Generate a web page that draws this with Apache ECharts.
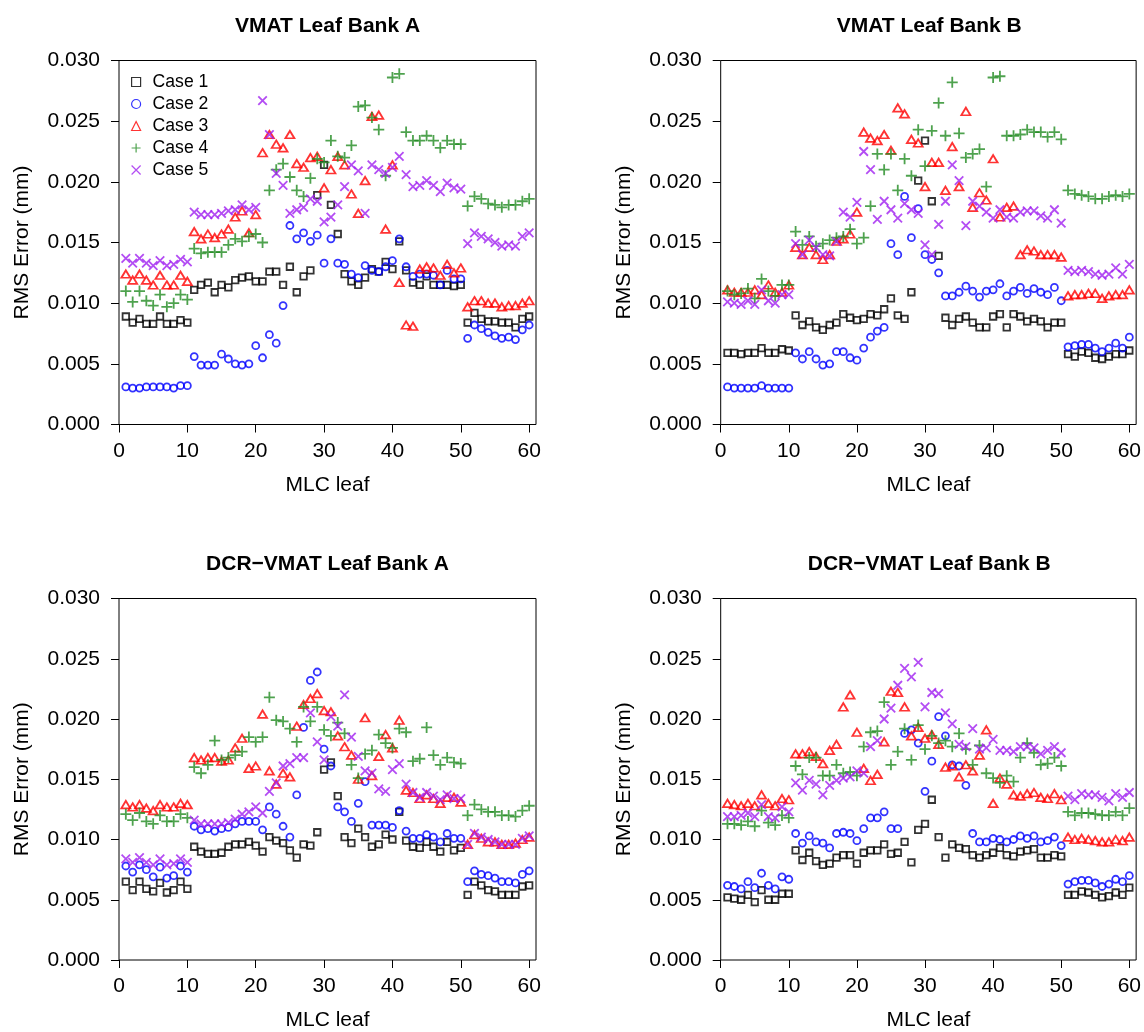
<!DOCTYPE html>
<html>
<head>
<meta charset="utf-8">
<script src="https://cdn.jsdelivr.net/npm/echarts@6.0.0/dist/echarts.min.js"></script>
<style>
  html, body { margin: 0; padding: 0; background: #fff; }
  #chart { width: 1144px; height: 1032px; }
</style>
</head>
<body>
<div id="chart"></div>
<script>
// RMS error per MLC leaf.
// values are in micrometres (0.001 mm); the y axis labels them in mm.
const leaves = Array.from({ length: 60 }, (_, i) => i + 1);
const xTicks = [0, 10, 20, 30, 40, 50, 60];
const yTicks = [0, 5, 10, 15, 20, 25, 30];
const caseNames = ["Case 1", "Case 2", "Case 3", "Case 4", "Case 5"];
const panelTitles = [
  "VMAT Leaf Bank A",
  "VMAT Leaf Bank B",
  "DCR\u2212VMAT Leaf Bank A",
  "DCR\u2212VMAT Leaf Bank B",
];

// VMAT leaf bank A
const vmatA1 = [8.9, 8.4, 8.7, 8.3, 8.3, 8.9, 8.3, 8.3, 8.6, 8.4,
  11.1, 11.5, 11.7, 10.9, 11.5, 11.3, 11.9, 12.1, 12.2, 11.8,
  11.8, 12.6, 12.6, 11.5, 13.0, 10.9, 12.2, 12.7, 18.9, 21.4,
  18.1, 15.7, 12.4, 11.8, 11.5, 12.1, 12.8, 12.6, 13.4, 12.8,
  15.1, 12.7, 11.7, 11.5, 12.2, 11.5, 11.5, 11.5, 11.4, 11.5,
  8.4, 9.2, 8.7, 8.5, 8.5, 8.4, 8.4, 8.0, 8.7, 8.9];
const vmatA2 = [3.1, 3.0, 3.0, 3.1, 3.1, 3.1, 3.1, 3.0, 3.2, 3.2,
  5.6, 4.9, 4.9, 4.9, 5.8, 5.4, 5.0, 4.9, 5.0, 6.5,
  5.5, 7.4, 6.7, 9.8, 16.4, 15.3, 15.8, 15.1, 15.6, 13.3,
  15.3, 13.3, 13.2, 12.4, 12.1, 13.1, 12.7, 12.6, 13.0, 13.5,
  15.3, 13.0, 12.2, 12.4, 12.4, 12.3, 11.5, 12.7, 12.0, 12.0,
  7.1, 8.2, 7.9, 7.6, 7.3, 7.1, 7.2, 7.0, 7.8, 8.2];
const vmatA3 = [12.4, 11.9, 12.4, 11.9, 11.5, 12.3, 11.5, 11.5, 12.3, 11.8,
  15.9, 15.3, 15.7, 15.4, 15.7, 16.1, 17.1, 17.6, 15.8, 17.3,
  22.4, 23.9, 23.1, 22.8, 23.9, 21.5, 21.2, 22.0, 22.1, 19.5,
  21.0, 22.1, 21.4, 19.0, 17.4, 20.1, 25.4, 25.5, 16.1, 21.4,
  11.7, 8.2, 8.1, 12.8, 13.0, 12.9, 12.3, 13.2, 12.5, 12.9,
  9.7, 10.2, 10.2, 10.0, 10.0, 9.7, 9.8, 9.8, 10.0, 10.2];
const vmatA4 = [11.0, 10.1, 11.0, 10.2, 9.8, 10.7, 9.7, 10.0, 10.7, 10.3,
  14.5, 14.1, 14.2, 14.2, 14.2, 14.8, 15.3, 15.1, 15.5, 15.7,
  15.0, 19.3, 21.0, 21.5, 20.4, 19.3, 18.8, 20.3, 21.9, 21.6,
  23.4, 22.1, 22.0, 23.0, 26.2, 26.3, 25.3, 24.3, 20.5, 28.6,
  28.9, 24.1, 23.4, 23.4, 23.8, 23.4, 22.8, 23.4, 23.1, 23.1,
  18.0, 18.8, 18.6, 18.2, 18.1, 17.9, 18.1, 18.1, 18.4, 18.6];
const vmatA5 = [13.7, 13.3, 13.7, 13.3, 13.1, 13.5, 13.1, 13.2, 13.6, 13.4,
  17.5, 17.3, 17.3, 17.3, 17.4, 17.6, 17.7, 18.1, 17.7, 17.9,
  26.7, 23.9, 20.7, 19.7, 17.4, 17.7, 17.9, 18.6, 18.4, 16.7,
  17.1, 18.1, 19.6, 21.4, 20.9, 17.4, 21.4, 21.0, 20.7, 21.2,
  22.1, 20.6, 19.6, 19.7, 20.1, 19.7, 19.2, 19.9, 19.5, 19.4,
  14.9, 15.8, 15.5, 15.3, 15.0, 14.7, 14.8, 14.7, 15.5, 15.8];

// VMAT leaf bank B
const vmatB1 = [5.9, 5.9, 5.8, 5.9, 5.9, 6.3, 5.9, 5.9, 6.2, 6.1,
  9.0, 8.2, 8.5, 8.0, 7.8, 8.2, 8.4, 9.1, 8.8, 8.6,
  8.7, 9.1, 9.0, 9.5, 10.4, 9.0, 8.7, 10.9, 20.1, 23.4,
  18.4, 13.9, 8.8, 8.2, 8.7, 8.9, 8.4, 8.0, 8.0, 8.9,
  9.1, 8.0, 9.1, 8.9, 8.5, 8.7, 8.5, 8.0, 8.4, 8.4,
  5.8, 5.6, 6.0, 5.9, 5.5, 5.4, 5.6, 5.8, 5.8, 6.1];
const vmatB2 = [3.1, 3.0, 3.0, 3.0, 3.0, 3.2, 3.0, 3.0, 3.0, 3.0,
  5.9, 5.4, 6.0, 5.4, 4.9, 5.0, 6.0, 6.0, 5.5, 5.3,
  6.3, 7.2, 7.7, 8.0, 14.9, 14.0, 18.8, 15.4, 17.8, 14.0,
  13.6, 12.5, 10.6, 10.6, 10.9, 11.4, 11.0, 10.5, 11.0, 11.1,
  11.6, 10.6, 11.0, 11.3, 10.8, 11.2, 10.9, 10.7, 11.3, 10.2,
  6.4, 6.5, 6.6, 6.6, 6.3, 6.0, 6.3, 6.7, 6.3, 7.2];
const vmatB3 = [11.1, 10.9, 10.9, 10.9, 11.1, 10.7, 11.5, 10.9, 10.9, 11.5,
  14.6, 14.0, 14.6, 14.0, 13.6, 14.0, 15.1, 15.3, 15.7, 17.5,
  24.1, 23.6, 23.4, 23.9, 22.6, 26.1, 25.6, 23.5, 23.2, 19.6,
  21.6, 21.6, 19.3, 22.9, 19.6, 25.8, 17.9, 19.1, 18.5, 21.9,
  17.1, 17.9, 18.0, 14.0, 14.4, 14.3, 14.0, 14.0, 14.0, 13.8,
  10.6, 10.7, 10.7, 10.8, 10.8, 10.4, 10.6, 10.7, 10.7, 11.1];
const vmatB4 = [11.0, 10.7, 10.8, 11.2, 10.4, 12.0, 11.0, 10.6, 11.5, 11.5,
  15.9, 14.8, 15.5, 14.7, 14.9, 15.2, 15.4, 15.5, 16.1, 14.9,
  15.4, 18.0, 22.3, 21.0, 22.3, 19.3, 21.9, 20.5, 24.3, 21.3,
  24.2, 26.5, 23.8, 28.2, 24.0, 22.0, 22.3, 22.7, 19.6, 28.6,
  28.7, 23.8, 23.8, 23.9, 24.3, 24.1, 24.1, 23.7, 24.1, 23.5,
  19.3, 19.0, 18.9, 18.8, 18.6, 18.6, 18.8, 18.9, 18.8, 19.0];
const vmatB5 = [10.1, 10.0, 9.9, 10.2, 9.9, 11.1, 10.2, 10.0, 10.7, 10.7,
  14.9, 14.0, 15.2, 14.6, 14.0, 13.9, 15.1, 17.5, 17.1, 18.3,
  22.5, 21.0, 16.9, 18.4, 17.7, 17.0, 18.2, 17.7, 17.4, 14.8,
  14.0, 16.5, 18.4, 21.4, 20.1, 16.4, 18.4, 18.0, 17.5, 17.0,
  17.7, 17.1, 17.0, 17.5, 17.6, 17.6, 17.2, 17.0, 17.7, 16.6,
  12.7, 12.6, 12.7, 12.6, 12.4, 12.3, 12.4, 12.9, 12.4, 13.2];

// DCR-VMAT leaf bank A
const dcrA1 = [6.5, 5.8, 6.5, 5.9, 5.7, 6.4, 5.6, 5.8, 6.5, 5.9,
  9.4, 9.0, 8.8, 8.8, 8.9, 9.4, 9.6, 9.6, 9.8, 9.5,
  9.0, 10.2, 9.9, 9.7, 9.1, 8.5, 9.6, 9.5, 10.6, 15.8,
  16.4, 13.6, 10.2, 9.7, 10.9, 10.2, 9.4, 9.6, 10.4, 10.0,
  12.3, 9.9, 9.4, 9.3, 9.8, 9.4, 9.0, 9.8, 9.1, 9.3,
  5.4, 6.5, 6.2, 5.8, 5.7, 5.4, 5.4, 5.4, 6.1, 6.2];
const dcrA2 = [7.8, 7.3, 7.9, 7.5, 6.9, 7.7, 6.8, 7.0, 7.8, 7.3,
  11.1, 10.8, 10.9, 10.7, 10.9, 11.0, 11.3, 11.5, 11.5, 11.5,
  10.8, 12.7, 12.1, 11.1, 10.2, 13.7, 19.3, 23.2, 23.9, 17.5,
  16.1, 12.7, 12.3, 11.5, 13.0, 14.8, 11.2, 11.2, 11.2, 11.0,
  12.4, 10.7, 10.1, 10.1, 10.4, 10.2, 9.8, 10.5, 10.1, 10.1,
  6.5, 7.4, 7.1, 7.0, 6.8, 6.5, 6.5, 6.4, 7.1, 7.4];
const dcrA3 = [12.9, 12.7, 12.9, 12.6, 12.4, 12.9, 12.7, 12.7, 13.0, 12.9,
  16.8, 16.6, 16.8, 16.8, 16.5, 16.6, 17.6, 18.4, 15.9, 16.1,
  20.4, 15.7, 14.6, 15.5, 15.2, 19.4, 21.2, 21.7, 22.1, 20.7,
  20.6, 18.6, 17.7, 17.0, 15.0, 20.1, 15.3, 16.9, 18.7, 17.6,
  19.9, 14.1, 13.9, 13.4, 13.7, 13.4, 13.0, 13.5, 13.5, 13.1,
  9.6, 10.4, 10.1, 9.8, 9.8, 9.6, 9.6, 9.7, 10.0, 10.2];
const dcrA4 = [12.1, 11.6, 12.2, 11.5, 11.3, 12.0, 11.5, 11.5, 12.1, 11.8,
  16.0, 15.5, 16.2, 18.2, 16.6, 16.8, 17.0, 17.3, 18.5, 18.1,
  18.5, 21.8, 19.9, 19.8, 19.2, 18.1, 21.0, 19.8, 21.0, 19.1,
  18.6, 19.7, 18.8, 16.2, 15.1, 17.1, 17.4, 18.7, 18.0, 17.6,
  19.2, 18.9, 16.5, 16.7, 19.3, 17.0, 16.2, 16.8, 16.4, 16.3,
  12.0, 12.9, 12.5, 12.3, 12.3, 12.0, 12.0, 11.9, 12.4, 12.8];
const dcrA5 = [8.4, 8.1, 8.5, 8.1, 7.9, 8.4, 7.9, 8.0, 8.4, 8.1,
  11.6, 11.3, 11.3, 11.3, 11.3, 11.4, 11.7, 12.1, 12.3, 12.7,
  12.2, 14.0, 14.7, 16.1, 16.3, 16.8, 16.8, 20.5, 18.1, 16.6,
  20.2, 19.4, 22.0, 18.5, 16.9, 15.7, 15.5, 14.2, 14.0, 15.8,
  16.3, 14.6, 13.9, 13.5, 13.9, 13.6, 13.3, 13.7, 13.4, 13.4,
  9.6, 10.5, 10.2, 10.0, 9.8, 9.6, 9.6, 9.6, 10.1, 10.3];

// DCR-VMAT leaf bank B
const dcrB1 = [5.2, 5.1, 5.0, 5.4, 4.8, 5.8, 5.0, 5.0, 5.5, 5.5,
  9.1, 8.3, 8.9, 8.2, 7.9, 8.0, 8.5, 8.7, 8.7, 8.0,
  8.9, 9.1, 9.1, 9.6, 8.8, 8.9, 9.8, 8.1, 10.8, 11.3,
  13.3, 10.2, 8.5, 9.6, 9.3, 9.2, 8.7, 8.5, 8.7, 8.9,
  9.3, 8.7, 8.6, 9.0, 9.1, 9.2, 8.5, 8.5, 8.7, 8.6,
  5.4, 5.4, 5.7, 5.6, 5.4, 5.2, 5.3, 5.6, 5.4, 6.0];
const dcrB2 = [6.2, 6.1, 5.9, 6.5, 6.0, 7.2, 6.2, 5.9, 6.9, 6.7,
  10.5, 9.7, 10.3, 9.8, 9.7, 9.3, 10.5, 10.6, 10.5, 9.9,
  10.9, 11.8, 11.8, 12.3, 10.9, 10.9, 18.8, 19.1, 18.0, 14.0,
  16.5, 20.2, 18.6, 16.2, 16.1, 14.5, 10.5, 9.8, 9.8, 10.1,
  10.0, 9.8, 10.0, 10.3, 10.1, 10.3, 9.8, 9.9, 10.2, 9.5,
  6.3, 6.5, 6.6, 6.6, 6.4, 6.1, 6.3, 6.7, 6.5, 7.0];
const dcrB3 = [13.0, 12.9, 12.8, 13.0, 12.8, 13.7, 13.0, 12.8, 13.4, 13.3,
  17.1, 17.1, 17.3, 16.9, 16.3, 17.4, 17.9, 21.0, 22.0, 18.9,
  15.9, 14.9, 15.4, 18.1, 22.3, 22.2, 21.0, 18.6, 19.3, 18.4,
  18.7, 17.9, 16.0, 16.1, 15.2, 16.2, 15.7, 17.0, 19.1, 13.0,
  15.1, 14.6, 13.7, 13.6, 13.8, 13.9, 13.5, 13.4, 13.8, 13.3,
  10.2, 10.0, 10.1, 10.0, 9.9, 9.8, 9.8, 10.0, 9.9, 10.2];
const dcrB4 = [11.3, 11.3, 11.2, 11.5, 11.1, 12.4, 11.4, 11.2, 12.0, 11.8,
  16.1, 15.4, 16.8, 16.8, 15.3, 15.3, 16.2, 15.5, 15.6, 15.3,
  17.7, 18.9, 19.0, 21.4, 16.2, 17.3, 19.2, 16.6, 19.5, 17.5,
  18.6, 18.0, 18.2, 17.7, 18.8, 17.5, 16.2, 17.8, 15.5, 15.1,
  14.7, 15.3, 14.8, 16.8, 18.0, 17.2, 16.2, 16.3, 16.8, 16.1,
  12.3, 12.0, 12.2, 12.2, 12.1, 12.0, 12.0, 12.3, 12.0, 12.6];
const dcrB5 = [11.9, 11.9, 12.0, 12.2, 11.9, 12.9, 11.9, 11.8, 12.7, 12.3,
  14.7, 14.1, 14.9, 14.6, 13.7, 14.5, 14.9, 15.1, 15.2, 15.7,
  15.5, 17.7, 18.2, 20.0, 20.9, 22.8, 24.2, 23.5, 24.7, 21.0,
  22.2, 22.1, 20.5, 19.6, 17.9, 17.7, 19.2, 17.5, 17.6, 18.3,
  17.4, 17.4, 17.3, 17.7, 17.7, 17.6, 17.1, 17.4, 17.7, 17.2,
  13.6, 13.3, 13.8, 13.7, 13.7, 13.5, 13.2, 13.8, 13.5, 13.9];

const panels = [
  [vmatA1, vmatA2, vmatA3, vmatA4, vmatA5],
  [vmatB1, vmatB2, vmatB3, vmatB4, vmatB5],
  [dcrA1, dcrA2, dcrA3, dcrA4, dcrA5],
  [dcrB1, dcrB2, dcrB3, dcrB4, dcrB5],
];

const FONT = "Liberation Sans, Arial, Helvetica, sans-serif";

// R style open markers: square, circle, triangle, plus, cross
const markers = [
  { symbol: "rect", size: 6.5, color: "#000000" },
  { symbol: "circle", size: 7, color: "#0000ff" },
  { symbol: "triangle", size: [9, 7.5], color: "#ff0000" },
  { symbol: "path://M0,5L10,5M5,0L5,10", size: 11, color: "#228b22" },
  { symbol: "path://M0,0L10,10M0,10L10,0", size: 8.5, color: "#a020f0" },
];

const boxes = [
  { left: 119, top: 60.5 },
  { left: 720.7, top: 60.5 },
  { left: 119, top: 598.5 },
  { left: 720.7, top: 598.5 },
];
const BOX_W = 417;
const BOX_H = 364;

const chart = echarts.init(document.getElementById("chart"));

const grid = boxes.map((b) => ({
  left: b.left,
  top: b.top,
  width: BOX_W,
  height: BOX_H,
  show: true,
  borderColor: "#000",
  borderWidth: 1,
  backgroundColor: "transparent",
}));

const xAxis = boxes.map((b, i) => ({
  type: "value",
  gridIndex: i,
  min: 0,
  max: 61,
  interval: 10,
  axisLine: { show: false },
  axisTick: {
    show: true,
    inside: false,
    length: 8,
    customValues: xTicks,
    lineStyle: { color: "#000", width: 1 },
  },
  axisLabel: {
    customValues: xTicks,
    margin: 16,
    fontSize: 21,
    fontFamily: FONT,
    color: "#000",
  },
  splitLine: { show: false },
  name: "MLC leaf",
  nameLocation: "middle",
  nameGap: 50,
  nameTextStyle: { fontSize: 21, fontFamily: FONT, color: "#000" },
}));

const yAxis = boxes.map((b, i) => ({
  type: "value",
  gridIndex: i,
  min: 0,
  max: 30,
  interval: 5,
  axisLine: { show: false },
  axisTick: {
    show: true,
    inside: false,
    length: 8,
    customValues: yTicks,
    lineStyle: { color: "#000", width: 1 },
  },
  axisLabel: {
    customValues: yTicks,
    margin: 19,
    fontSize: 21,
    fontFamily: FONT,
    color: "#000",
    formatter: (v) => (v / 1000).toFixed(3),
  },
  splitLine: { show: false },
  name: "RMS Error (mm)",
  nameLocation: "middle",
  nameRotate: 90,
  nameGap: 86,
  nameTextStyle: { fontSize: 21, fontFamily: FONT, color: "#000" },
}));

const title = panelTitles.map((t, i) => ({
  text: t,
  left: boxes[i].left + BOX_W / 2,
  top: boxes[i].top - 45,
  textAlign: "center",
  padding: 0,
  textStyle: { fontSize: 21, fontWeight: "bold", fontFamily: FONT, color: "#000" },
}));

const series = [];
panels.forEach((cases, p) => {
  cases.forEach((vals, c) => {
    const m = markers[c];
    series.push({
      type: "scatter",
      name: caseNames[c],
      xAxisIndex: p,
      yAxisIndex: p,
      data: leaves.map((x, i) => [x, vals[i]]),
      symbol: m.symbol,
      symbolSize: m.size,
      itemStyle: { color: "transparent", borderColor: m.color, borderWidth: 1.8 },
      emphasis: { disabled: true },
      silent: true,
    });
  });
});

chart.setOption({
  animation: false,
  backgroundColor: "#fff",
  title,
  legend: {
    data: caseNames,
    orient: "vertical",
    left: 131,
    top: 72,
    padding: 0,
    itemGap: 2,
    itemWidth: 9,
    itemHeight: 9,
    selectedMode: false,
    itemStyle: { borderWidth: 1.2 },
    textStyle: {
      fontSize: 17.6,
      fontFamily: FONT,
      color: "#000",
      lineHeight: 20,
      padding: [0, 0, 0, 7],
    },
  },
  grid,
  xAxis,
  yAxis,
  series,
});
</script>
</body>
</html>
